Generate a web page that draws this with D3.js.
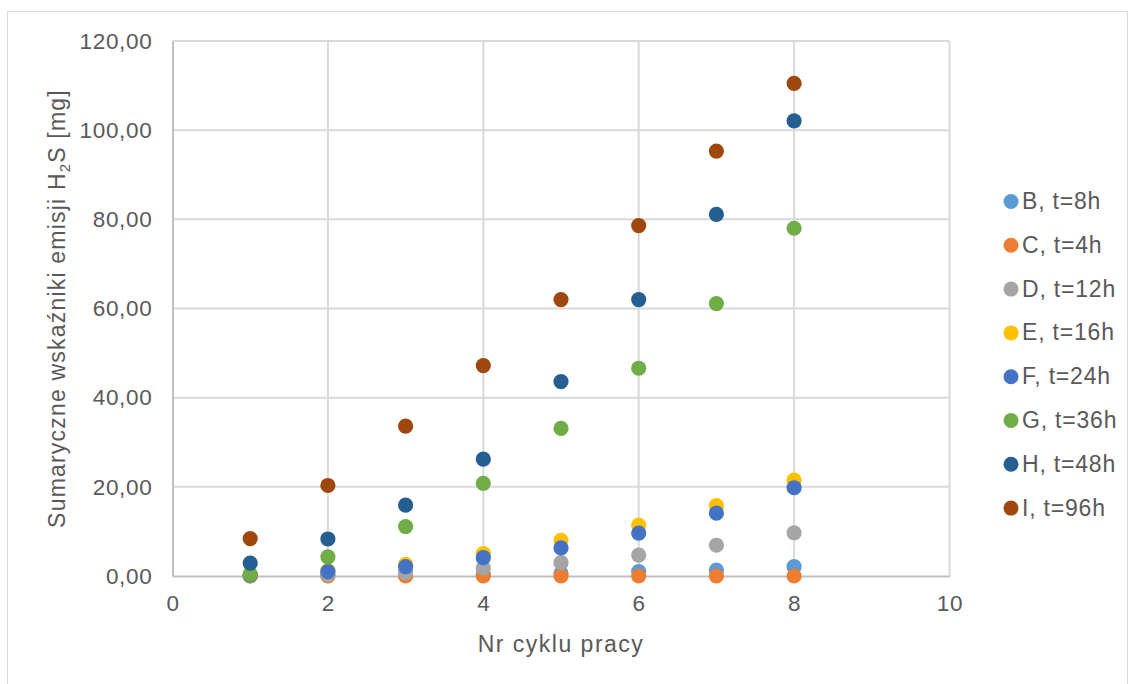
<!DOCTYPE html>
<html>
<head>
<meta charset="utf-8">
<script src="https://cdn.jsdelivr.net/npm/d3@7"></script>
<style>
  body{margin:0;background:#fff;}
  text{font-family:"Liberation Sans",Arial,sans-serif;fill:#595959;}
</style>
</head>
<body>
<svg id="chart" width="1130" height="684"></svg>
<script>
// cycle numbers (x)
var cycles=[1,2,3,4,5,6,7,8];
// series names, same order as legend
var seriesNames=["B, t=8h","C, t=4h","D, t=12h","E, t=16h","F, t=24h","G, t=36h","H, t=48h","I, t=96h"];
var seriesColors=["#5b9bd5","#ed7d31","#a5a5a5","#ffc000","#4472c4","#70ad47","#255e91","#9e480e"];
// cumulative H2S emission [mg]
var valsB=[0.0,0.1,0.3,0.4,0.6,1.0,1.3,2.1];
var valsC=[0.0,0.0,0.0,0.0,0.0,0.0,0.0,0.0];
var valsD=[0.1,0.3,0.7,1.8,3.0,4.7,6.9,9.7];
var valsE=[0.1,1.2,2.6,5.0,8.0,11.4,15.8,21.5];
var valsF=[0.2,1.0,2.1,4.1,6.3,9.6,14.1,19.8];
var valsG=[0.4,4.3,11.1,20.8,33.1,46.6,61.1,78.0];
var valsH=[2.9,8.3,15.9,26.2,43.6,62.0,81.1,102.1];
var valsI=[8.4,20.3,33.6,47.2,62.0,78.6,95.3,110.5];
var allVals=[valsB,valsC,valsD,valsE,valsF,valsG,valsH,valsI];
var xTicks=[0,2,4,6,8,10];
var yTicks=[0,20,40,60,80,100,120];

var svg=d3.select("#chart");
var plotL=172.5,plotR=949.5,plotT=41,plotB=576;

// outer chart border
svg.append("rect")
  .attr("x",7.5).attr("y",11.5)
  .attr("width",1120).attr("height",690)
  .attr("fill","none").attr("stroke","#d9d9d9").attr("stroke-width",1);

var x=d3.scaleLinear().domain([0,10]).range([plotL,plotR]);
var y=d3.scaleLinear().domain([0,120]).range([plotB,plotT]);

var fmt=function(d){return d3.format(".2f")(d).replace(".",",");};

// gridlines
var grid=svg.append("g");
grid.selectAll(".vg").data(xTicks.slice(1)).enter().append("line")
  .attr("x1",function(d){return x(d);}).attr("x2",function(d){return x(d);})
  .attr("y1",plotT).attr("y2",plotB)
  .attr("stroke","#d9d9d9").attr("stroke-width",2);
grid.selectAll(".hg").data(yTicks.slice(1)).enter().append("line")
  .attr("x1",plotL).attr("x2",plotR)
  .attr("y1",function(d){return y(d);}).attr("y2",function(d){return y(d);})
  .attr("stroke","#d9d9d9").attr("stroke-width",2);

// axes
var xAxis=svg.append("g").attr("transform","translate(0,"+plotB+")")
  .call(d3.axisBottom(x).tickValues(xTicks).tickSize(0).tickPadding(19));
var yAxis=svg.append("g").attr("transform","translate("+plotL+",0)")
  .call(d3.axisLeft(y).tickValues(yTicks).tickFormat(fmt).tickSize(0).tickPadding(20));
[xAxis,yAxis].forEach(function(a){
  a.select(".domain").attr("stroke","#bfbfbf").attr("stroke-width",2);
  a.selectAll("text").attr("font-size",22.5).attr("fill","#595959")
    .attr("letter-spacing",0.7)
    .attr("font-family","Liberation Sans, Arial, sans-serif");
});

// points
var pts=svg.append("g");
allVals.forEach(function(vals,si){
  pts.selectAll(".s"+si).data(vals).enter().append("circle")
    .attr("cx",function(d,i){return x(cycles[i]);})
    .attr("cy",function(d){return y(d);})
    .attr("r",7.6)
    .attr("fill",seriesColors[si]);
});

// axis titles
svg.append("text")
  .attr("x",(plotL+plotR)/2).attr("y",652)
  .attr("text-anchor","middle").attr("font-size",23).attr("letter-spacing",1.5)
  .text("Nr cyklu pracy");
var yt=svg.append("text")
  .attr("transform","translate(65,"+((plotT+plotB)/2)+") rotate(-90)")
  .attr("text-anchor","middle").attr("font-size",23).attr("letter-spacing",1.2);
yt.append("tspan").text("Sumaryczne wskaźniki emisji H");
yt.append("tspan").attr("font-size",15).attr("dy",5).text("2");
yt.append("tspan").attr("dy",-5).text("S [mg]");

// legend
var leg=svg.append("g");
seriesNames.forEach(function(name,i){
  var ly=201.5+i*43.8;
  leg.append("circle").attr("cx",1011).attr("cy",ly).attr("r",7.5).attr("fill",seriesColors[i]);
  leg.append("text").attr("x",1022).attr("y",ly+7.5).attr("font-size",23)
    .attr("letter-spacing",0.8).text(name);
});
</script>
</body>
</html>
